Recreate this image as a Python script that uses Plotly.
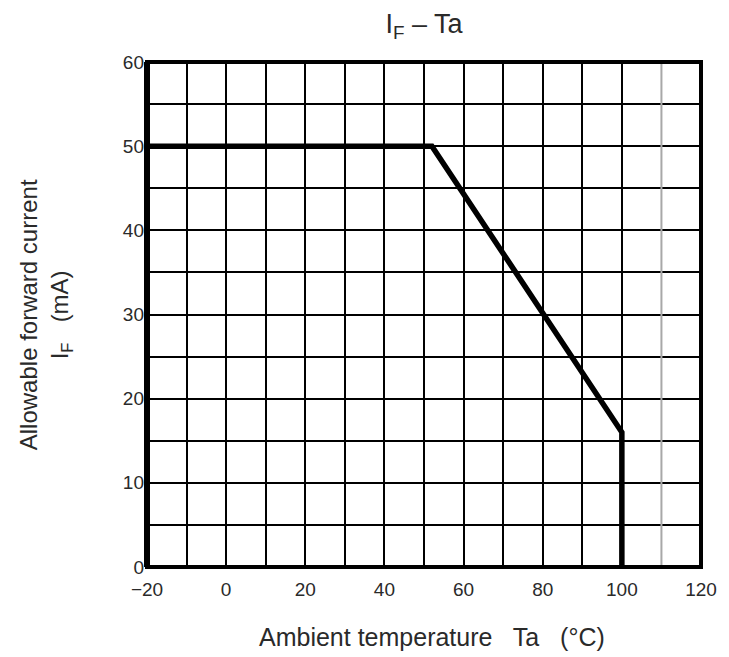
import plotly.graph_objects as go

# Data
temp_c = [-20, 52, 100, 100]
current_ma = [50, 50, 16, 0]

x_major_ticks = [-20, 0, 20, 40, 60, 80, 100, 120]
x_minor_grid = [-10, 10, 30, 50, 70, 90]
x_gray_grid = [110]
y_major_ticks = [0, 10, 20, 30, 40, 50, 60]
y_minor_grid = [5, 15, 25, 35, 45, 55]

TXT = "#2a2a2a"
FONT = "Liberation Sans, Arial, sans-serif"

fig = go.Figure()
fig.add_trace(go.Scatter(
    x=temp_c, y=current_ma, mode="lines",
    line=dict(color="black", width=5.5), showlegend=False, hoverinfo="skip",
))

fig.update_layout(
    width=729, height=657,
    margin=dict(l=147, r=24, t=62, b=90),
    paper_bgcolor="white", plot_bgcolor="white",
    font=dict(family=FONT, color=TXT),
    title=dict(text="I<sub>F</sub> – Ta", x=0.5, xref="paper", xanchor="center",
               y=1 - 24 / 657, yref="container", yanchor="middle",
               font=dict(size=27, color=TXT, family=FONT)),
    xaxis=dict(range=[-20, 120], tickvals=x_major_ticks,
               ticktext=[("−" + str(-v)) if v < 0 else str(v) for v in x_major_ticks],
               showgrid=True, gridcolor="black", gridwidth=2,
               minor=dict(tickvals=x_minor_grid, showgrid=True, gridcolor="black", gridwidth=2),
               zeroline=False, showline=False, ticks="", ticklabelstandoff=9,
               tickfont=dict(size=19, color=TXT, family=FONT)),
    yaxis=dict(range=[0, 60], tickvals=y_major_ticks,
               showgrid=True, gridcolor="black", gridwidth=2,
               minor=dict(tickvals=y_minor_grid, showgrid=True, gridcolor="black", gridwidth=2),
               zeroline=False, showline=False, ticks="", ticklabelstandoff=2,
               tickfont=dict(size=19, color=TXT, family=FONT)),
)

for xv in x_gray_grid:
    fig.add_shape(type="line", xref="x", yref="paper", x0=xv, x1=xv, y0=0, y1=1,
                  line=dict(color="#a8a8a8", width=2), layer="above")

# frame
fig.add_shape(type="rect", xref="paper", yref="paper", x0=0, x1=1, y0=0, y1=1,
              line=dict(color="black", width=4), layer="above")
fig.add_shape(type="line", xref="paper", yref="paper", x0=0, x1=0, y0=0, y1=1,
              line=dict(color="black", width=6), layer="above")

fig.add_annotation(text="Ambient temperature   Ta   (°C)", xref="paper", yref="paper",
                   x=(434 - 147) / 558, y=-(637 - 567) / 505, showarrow=False,
                   xanchor="center", yanchor="middle", font=dict(size=25, color=TXT, family=FONT))
fig.add_annotation(text="Allowable forward current<br>I<sub>F</sub>   (mA)", xref="paper", yref="paper",
                   x=(45 - 147) / 558, y=0.5, showarrow=False, textangle=-90,
                   xanchor="center", yanchor="middle", font=dict(size=24, color=TXT, family=FONT))

fig.write_html("out.html")
